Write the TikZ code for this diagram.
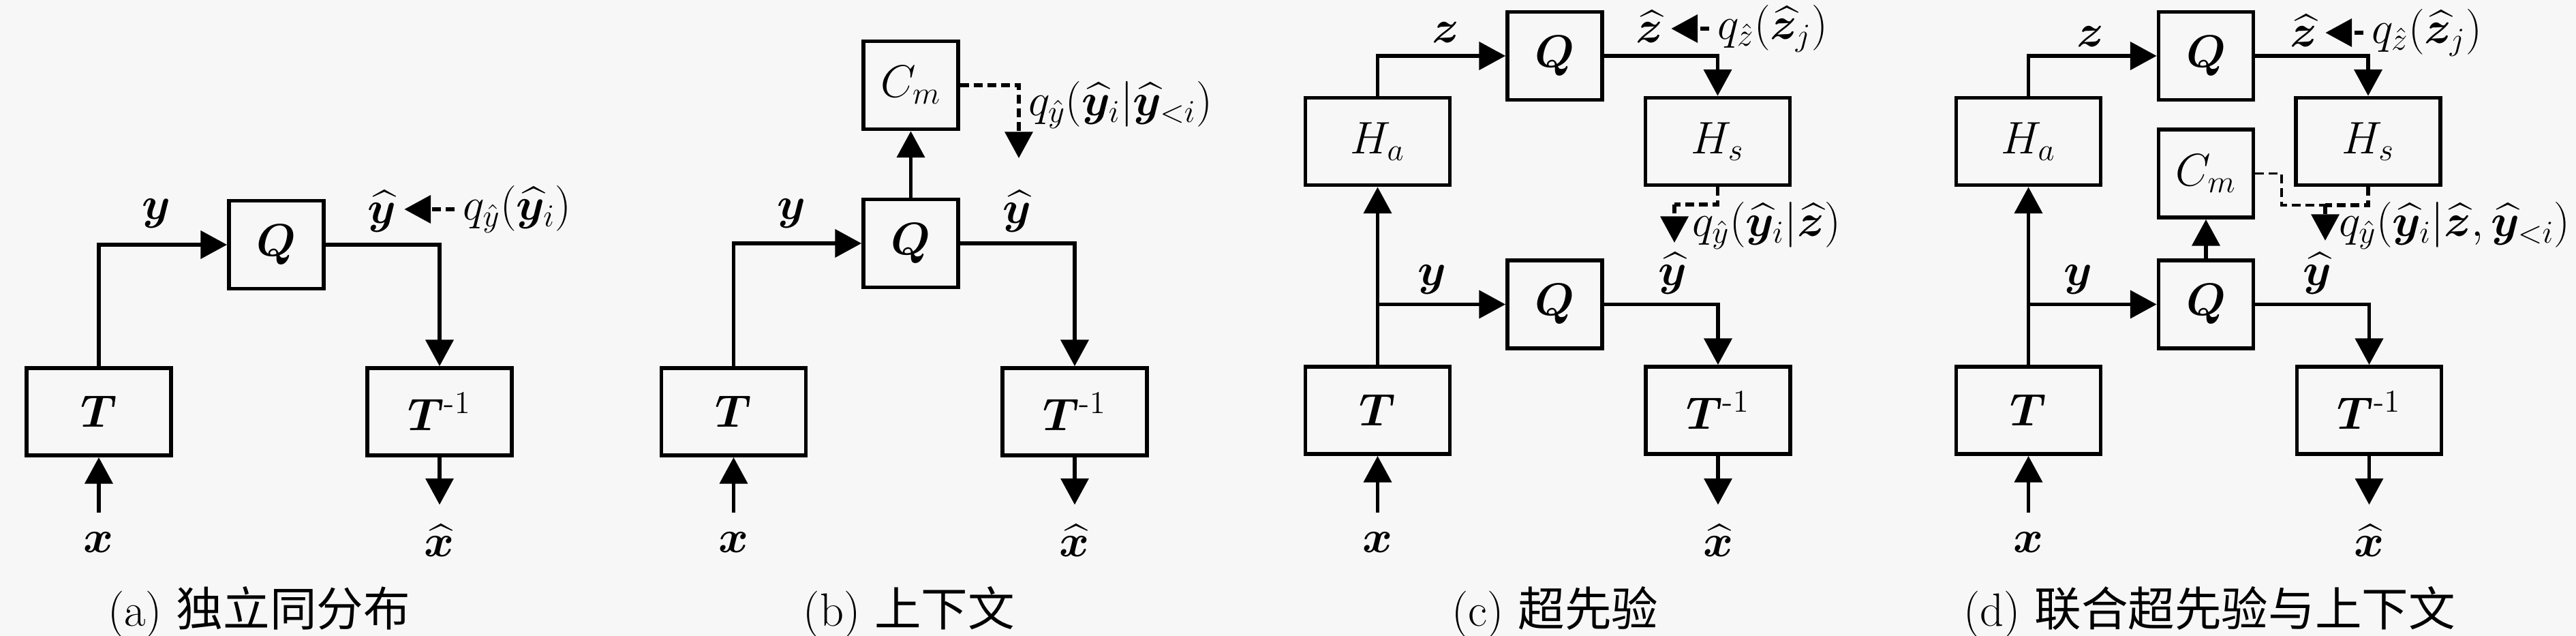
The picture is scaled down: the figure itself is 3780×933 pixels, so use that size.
\RequirePackage{fix-cm}
\documentclass[tikz,border=0pt]{standalone}
\usepackage{fontspec}
\usepackage{amsmath,bm}
\newfontfamily\cjk{Noto Sans CJK SC}
\usetikzlibrary{arrows.meta}
\tikzset{
  box/.style={draw, line width=1.6pt, minimum width=2.12cm, minimum height=1.28cm, inner sep=0pt},
  sbox/.style={draw, line width=1.6pt, minimum width=1.39cm, minimum height=1.29cm, inner sep=0pt},
  io/.style={inner sep=8pt},
  flow/.style={line width=1.6pt, -{Triangle[length=11pt,width=11.5pt]}},
  dflow/.style={flow, dash pattern=on 3.7pt off 2pt},
  dline/.style={line width=1.6pt, dash pattern=on 3.7pt off 2pt},
  tdline/.style={line width=1pt, dash pattern=on 3.7pt off 2pt},
  capt/.style={font=\fontsize{19.5}{23}\selectfont},
}
\begin{document}
\begin{tikzpicture}[x=0.01cm,y=-0.01cm, every node/.style={font=\fontsize{19}{23}\selectfont}]
\fill[black!3] (0,0) rectangle (3780,933);
\useasboundingbox (0,0) rectangle (3780,933);

% ---------------- (a)
\node[box] (Ta) at (145,604) {$\bm T$};
\node[box] (Tia) at (645,604) {$\bm T^{\text{-}1}$};
\node[sbox] (Qa) at (405.5,359) {$\bm Q$};
\node[io] (xa) at (145,796) {$\bm x$};
\node[io] (xha) at (645,793) {$\widehat{\bm x}$};
\node (ya) at (229,313) {$\bm y$};
\node (yha) at (560,310) {$\widehat{\bm y}$};
\node (qa) at (759,307) {$q_{\hat y}\!\left(\widehat{\bm y}_i\right)$};
\draw[flow] (Ta.north) |- (Qa.west);
\draw[flow] (Qa.east) -| (Tia.north);
\draw[flow] (xa.north) -- (Ta.south);
\draw[flow] (Tia.south) -- (xha.north);
\draw[dflow] (qa.west) -- (qa.west -| yha.east);
\node[capt] (ca) at (380,898) {(a) {\cjk 独立同分布}};

% ---------------- (b)
\node[box] (Tb) at (1076.5,604) {$\bm T$};
\node[box] (Tib) at (1577,604) {$\bm T^{\text{-}1}$};
\node[sbox] (Qb) at (1336.5,357) {$\bm Q$};
\node[sbox] (Cb) at (1336.5,125) {$C_m$};
\node[io] (xb) at (1076.5,796) {$\bm x$};
\node[io] (xhb) at (1577,793) {$\widehat{\bm x}$};
\node (yb) at (1161,313) {$\bm y$};
\node (yhb) at (1492,310) {$\widehat{\bm y}$};
\node (qb) at (1644,154) {$q_{\hat y}\!\left(\widehat{\bm y}_i\middle|\widehat{\bm y}_{<i}\right)$};
\coordinate (db) at (1495,232);
\draw[flow] (Tb.north) |- (Qb.west);
\draw[flow] (Qb.east) -| (Tib.north);
\draw[flow] (Qb.north) -- (Cb.south);
\draw[flow] (xb.north) -- (Tb.south);
\draw[flow] (Tib.south) -- (xhb.north);
\draw[dflow] (Cb.east) -| (db);
\node[capt] (cb) at (1334,898) {(b) {\cjk 上下文}};

% ---------------- (c)
\node[sbox] (Qc1) at (2281.5,82) {$\bm Q$};
\node[box] (Hac) at (2021.5,207.5) {$H_a$};
\node[box] (Hsc) at (2520.5,207.5) {$H_s$};
\node[sbox] (Qc2) at (2281.5,446.5) {$\bm Q$};
\node[box] (Tc) at (2021.5,602) {$\bm T$};
\node[box] (Tic) at (2521,602) {$\bm T^{\text{-}1}$};
\node[io] (xc) at (2021.5,796) {$\bm x$};
\node[io] (xhc) at (2521,793) {$\widehat{\bm x}$};
\node (zc) at (2121,48) {$\bm z$};
\node (zhc) at (2420,39) {$\widehat{\bm z}$};
\node (qzc) at (2601,42) {$q_{\hat z}\!\left(\widehat{\bm z}_j\right)$};
\node (yc) at (2101,410) {$\bm y$};
\node (yhc) at (2454,401) {$\widehat{\bm y}$};
\node (qc) at (2592,331) {$q_{\hat y}\!\left(\widehat{\bm y}_i\middle|\widehat{\bm z}\right)$};
\coordinate (bc) at (2021.5,446.5);
\coordinate (dc1) at (2520.5,300);
\coordinate (dc2) at (2457,300);
\coordinate (dc3) at (2457,356);
\draw[flow] (Tc.north) -- (Hac.south);
\draw[flow] (bc) -- (Qc2.west);
\draw[flow] (Hac.north) |- (Qc1.west);
\draw[flow] (Qc1.east) -| (Hsc.north);
\draw[flow] (Qc2.east) -| (Tic.north);
\draw[flow] (xc.north) -- (Tc.south);
\draw[flow] (Tic.south) -- (xhc.north);
\draw[dline] (Hsc.south) -- (dc1) -- (dc2);
\draw[dflow] (dc2) -- (dc3);
\draw[dflow] (qzc.west) -- (qzc.west -| zhc.east);
\node[capt] (cc) at (2282,898) {(c) {\cjk 超先验}};

% ---------------- (d)
\node[sbox] (Qd1) at (3237,82) {$\bm Q$};
\node[box] (Had) at (2976.5,207.5) {$H_a$};
\node[box] (Hsd) at (3475,207.5) {$H_s$};
\node[sbox] (Cd) at (3237,254.5) {$C_m$};
\node[sbox] (Qd2) at (3237,446.5) {$\bm Q$};
\node[box] (Td) at (2976.5,602) {$\bm T$};
\node[box] (Tid) at (3476.5,602) {$\bm T^{\text{-}1}$};
\node[io] (xd) at (2976.5,796) {$\bm x$};
\node[io] (xhd) at (3476.5,793) {$\widehat{\bm x}$};
\node (zd) at (3067,54) {$\bm z$};
\node (zhd) at (3380,45) {$\widehat{\bm z}$};
\node (qzd) at (3561,48) {$q_{\hat z}\!\left(\widehat{\bm z}_j\right)$};
\node (yd) at (3049,410) {$\bm y$};
\node (yhd) at (3400,401) {$\widehat{\bm y}$};
\node (qd) at (3602,331) {$q_{\hat y}\!\left(\widehat{\bm y}_i\middle|\widehat{\bm z},\widehat{\bm y}_{<i}\right)$};
\coordinate (bd) at (2976.5,446.5);
\coordinate (dd1) at (3348,254.5);
\coordinate (dd2) at (3348,301);
\coordinate (dd3) at (3475,301);
\coordinate (dd4) at (3412,301);
\coordinate (dd5) at (3412,353);
\draw[flow] (Td.north) -- (Had.south);
\draw[flow] (bd) -- (Qd2.west);
\draw[flow] (Had.north) |- (Qd1.west);
\draw[flow] (Qd1.east) -| (Hsd.north);
\draw[flow] (Qd2.east) -| (Tid.north);
\draw[flow] (Qd2.north) -- (Cd.south);
\draw[flow] (xd.north) -- (Td.south);
\draw[flow] (Tid.south) -- (xhd.north);
\draw[tdline] (Cd.east) -- (dd1) -- (dd2) -- (dd4);
\draw[dline] (Hsd.south) -- (dd3) -- (dd4);
\draw[dflow] (dd4) -- (dd5);
\draw[dflow] (qzd.west) -- (qzd.west -| zhd.east);
\node[capt] (cd) at (3242,898) {(d) {\cjk 联合超先验与上下文}};
\end{tikzpicture}
\end{document}
